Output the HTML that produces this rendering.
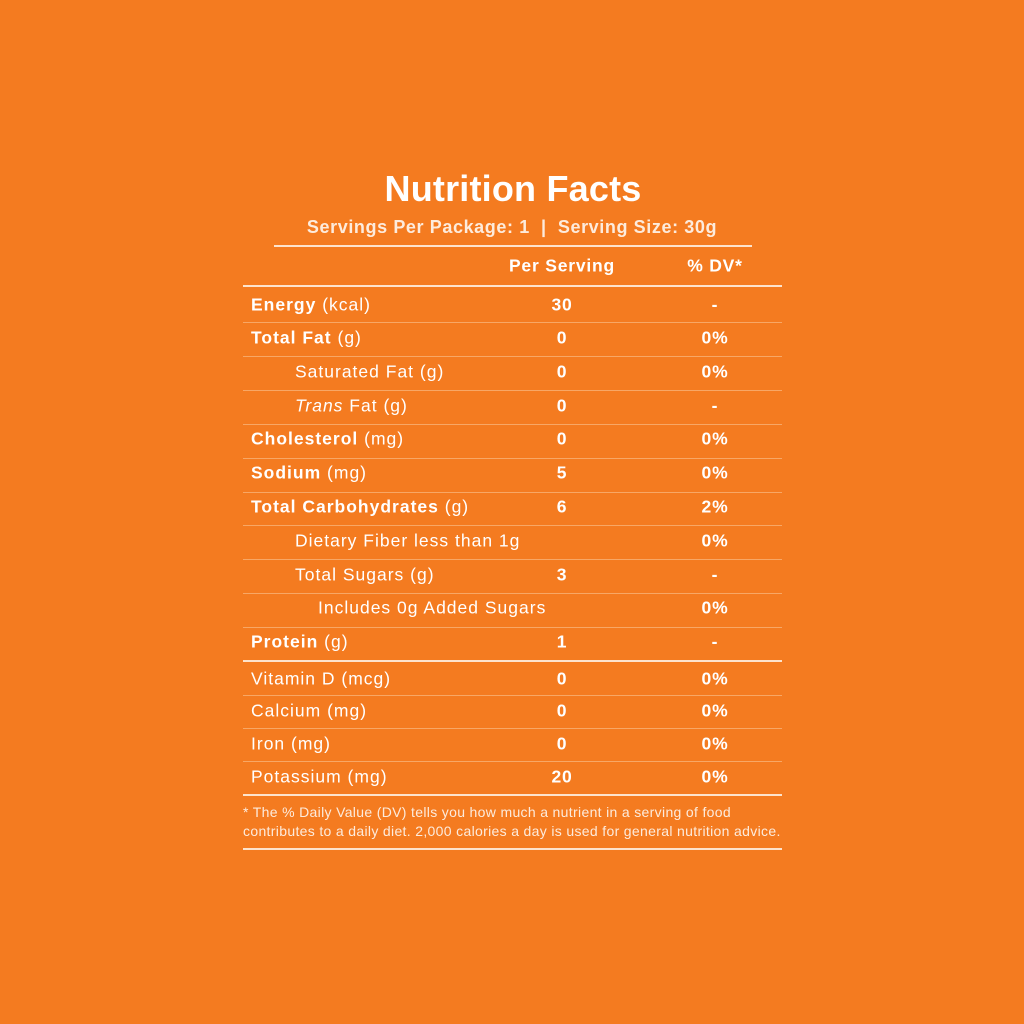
<!DOCTYPE html>
<html><head><style>
body{margin:0;width:1024px;height:1024px;background:#F47B20;font-family:"Liberation Sans",sans-serif;color:#fff;position:relative;overflow:hidden}
.t{position:absolute;white-space:nowrap;line-height:1;transform:translateY(-50%)}
.c{transform:translate(-50%,-50%)}
.l{position:absolute;background:#fde3cc}
b{font-weight:bold}
</style></head><body>
<div class="t c" style="left:513px;top:189px;font-size:36px;font-weight:bold;letter-spacing:0.2px">Nutrition Facts</div>
<div class="t c" style="left:512px;top:227px;font-size:18px;font-weight:bold;color:#fdebdc;letter-spacing:0.6px">Servings Per Package: 1 &nbsp;|&nbsp; Serving Size: 30g</div>
<div class="l" style="left:274px;top:245px;width:478px;height:2px"></div>
<div class="t c" style="left:562px;top:266px;font-size:17.5px;font-weight:bold;letter-spacing:0.8px">Per Serving</div>
<div class="t c" style="left:715px;top:266px;font-size:17.5px;font-weight:bold;letter-spacing:0.8px">% DV*</div>
<div class="l" style="left:243px;top:285px;width:539px;height:2px"></div>
<div id="rows"></div>
<div class="l" style="left:243px;top:660px;width:539px;height:2px"></div>
<div class="l" style="left:243px;top:794px;width:539px;height:2px"></div>
<div class="t" style="left:243px;top:812px;font-size:14px;color:#fdebdc;letter-spacing:0.33px">* The % Daily Value (DV) tells you how much a nutrient in a serving of food</div>
<div class="t" style="left:243px;top:831px;font-size:14px;color:#fdebdc;letter-spacing:0.33px">contributes to a daily diet. 2,000 calories a day is used for general nutrition advice.</div>
<div class="l" style="left:243px;top:848px;width:539px;height:2px"></div>
<script>
var R=[[305,0,"<b>Energy</b> (kcal)","30","-"],[338,0,"<b>Total Fat</b> (g)","0","0%"],[372,1,"Saturated Fat (g)","0","0%"],[406,1,"<i>Trans</i> Fat (g)","0","-"],[439,0,"<b>Cholesterol</b> (mg)","0","0%"],[473,0,"<b>Sodium</b> (mg)","5","0%"],[507,0,"<b>Total Carbohydrates</b> (g)","6","2%"],[541,1,"Dietary Fiber less than 1g","","0%"],[575,1,"Total Sugars (g)","3","-"],[608,2,"Includes 0g Added Sugars","","0%"],[642,0,"<b>Protein</b> (g)","1","-"],[679,0,"Vitamin D (mcg)","0","0%"],[711,0,"Calcium (mg)","0","0%"],[744,0,"Iron (mg)","0","0%"],[777,0,"Potassium (mg)","20","0%"]];
var L=[322,356,390,424,458,492,525,559,593,627,695,728,761];
var h="";
R.forEach(function(r){var x=[251,295,318][r[1]];
h+='<div class="t" style="left:'+x+'px;top:'+r[0]+'px;font-size:17.5px;letter-spacing:1px">'+r[2]+'</div>';
h+='<div class="t c" style="left:562px;top:'+r[0]+'px;font-size:17.5px;font-weight:bold;letter-spacing:0.8px">'+r[3]+'</div>';
h+='<div class="t c" style="left:715px;top:'+r[0]+'px;font-size:17.5px;font-weight:bold;letter-spacing:0.8px">'+r[4]+'</div>';});
L.forEach(function(y){h+='<div class="l" style="left:243px;top:'+y+'px;width:539px;height:1px;background:#f8a765"></div>';});
document.getElementById("rows").innerHTML=h;
</script>
</body></html>
